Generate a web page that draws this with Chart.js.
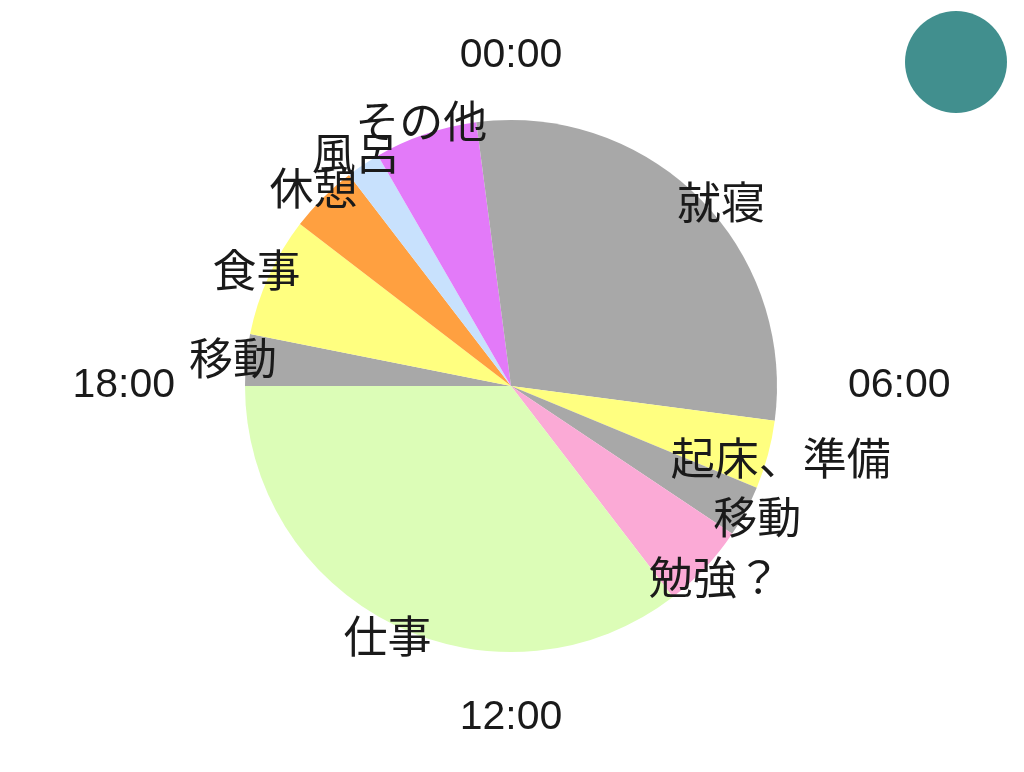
<!DOCTYPE html>
<html>
<head>
<meta charset="utf-8">
<script src="https://cdn.jsdelivr.net/npm/chart.js@4"></script>
<style>
    html, body { margin: 0; padding: 0; background: #fff; }
    #wrap { position: relative; width: 1024px; height: 772px; }
    #dot {
        position: absolute; left: 905px; top: 11px;
        width: 102px; height: 102px; border-radius: 50%;
        background: #418f8e;
    }
</style>
</head>
<body>
<div id="wrap">
    <canvas id="dayChart" width="1024" height="772"></canvas>
    <div id="dot"></div>
</div>
<script>
// one day, in hours, starting at 00:00 and going clockwise
var categories = ["就寝", "起床、準備", "移動", "勉強？", "仕事", "移動", "食事", "休憩", "風呂", "その他", ""];
var hours = [6.5, 1, 0.75, 1.25, 8.5, 0.75, 1.75, 1, 0.5, 1.5, 0.5];
var timeTicks = ["00:00", "06:00", "12:00", "18:00"];

var sliceColors = ["#a8a8a8", "#ffff80", "#a8a8a8", "#fbaad6", "#dcfdb7", "#a8a8a8",
                   "#ffff80", "#ffa040", "#c8e1fd", "#e37af9", "#a8a8a8"];

var labelFont = '44px "Noto Sans CJK JP", "Noto Sans", sans-serif';

// slice names drawn around the rim
var sliceLabels = {
    id: "sliceLabels",
    afterDatasetsDraw: function(chart) {
        var ctx = chart.ctx;
        var meta = chart.getDatasetMeta(0);
        ctx.save();
        ctx.font = labelFont;
        ctx.fillStyle = "#1a1a1a";
        ctx.textAlign = "center";
        ctx.textBaseline = "middle";
        meta.data.forEach(function(arc, i) {
            var text = chart.data.labels[i];
            if (!text) return;
            var p = arc.getProps(["x", "y", "startAngle", "endAngle", "outerRadius"], true);
            var mid = (p.startAngle + p.endAngle) / 2;
            var r = p.outerRadius * 1.05;
            ctx.fillText(text, p.x + Math.cos(mid) * r, p.y + Math.sin(mid) * r);
        });
        ctx.restore();
    }
};

// clock times at the four quarters
var clockTicks = {
    id: "clockTicks",
    afterDraw: function(chart) {
        var ctx = chart.ctx;
        var arc = chart.getDatasetMeta(0).data[0];
        var p = arc.getProps(["x", "y", "outerRadius"], true);
        ctx.save();
        ctx.font = '41px "Liberation Sans", "Noto Sans", sans-serif';
        ctx.fillStyle = "#1a1a1a";
        ctx.textBaseline = "middle";
        ctx.textAlign = "center";
        ctx.fillText(timeTicks[0], p.x, p.y - p.outerRadius - 64);
        ctx.fillText(timeTicks[2], p.x, p.y + p.outerRadius + 66);
        ctx.textAlign = "left";
        ctx.fillText(timeTicks[1], p.x + p.outerRadius + 71, p.y);
        ctx.textAlign = "right";
        ctx.fillText(timeTicks[3], p.x - p.outerRadius - 70, p.y);
        ctx.restore();
    }
};

var ctx = document.getElementById("dayChart");

var dayChart = new Chart(ctx, {
    type: "pie",
    data: {
        labels: categories,
        datasets: [{
            data: hours,
            backgroundColor: sliceColors,
            borderWidth: 0,
            hoverOffset: 0
        }]
    },
    options: {
        responsive: false,
        animation: false,
        rotation: 0,
        layout: {
            padding: { top: 120, bottom: 120, left: 0, right: 2 }
        },
        plugins: {
            legend: { display: false },
            tooltip: { enabled: false }
        }
    },
    plugins: [sliceLabels, clockTicks]
});
</script>
</body>
</html>
